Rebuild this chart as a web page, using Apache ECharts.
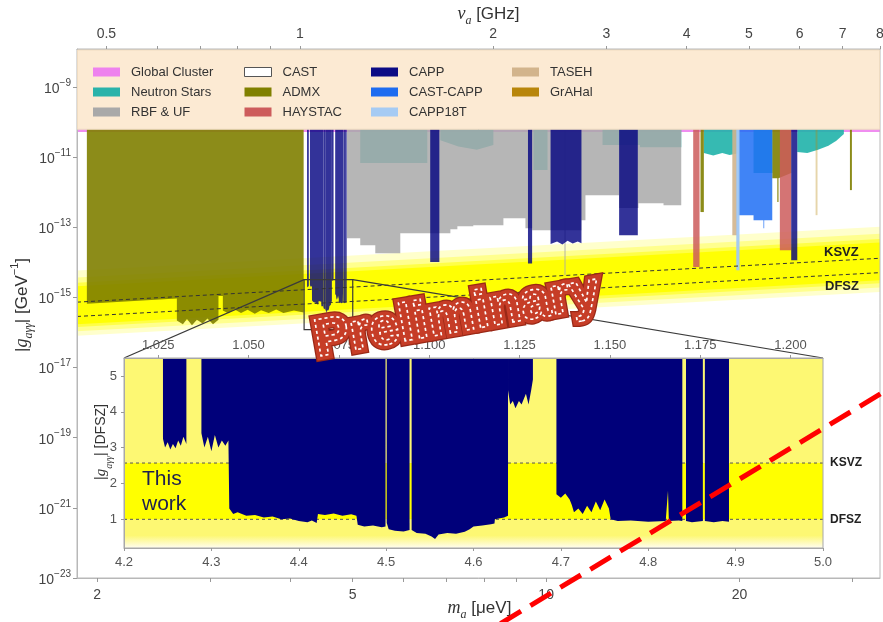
<!DOCTYPE html>
<html>
<head>
<meta charset="utf-8">
<title>Axion–photon coupling limits</title>
<script src="https://cdn.jsdelivr.net/npm/echarts@6/dist/echarts.min.js"></script>
<style>
  html, body { margin: 0; padding: 0; background: #ffffff; }
  #chart { width: 883px; height: 622px; }
</style>
</head>
<body>
<div id="chart"></div>
<script>
// ---------------- axes ----------------
const UEV_PER_GHZ = 4.1357;                 // m_a [μeV] per ν_a [GHz]
const massRange = [1.861, 33.09];           // μeV
const couplingRange = [1e-23, 1.2e-8];      // GeV^-1
const massTickValues = [2, 3, 4, 5, 6, 7, 8, 9, 10, 20, 30];
const massLabelValues = [2, 5, 10, 20];
const freqTickValues = [0.5, 0.6, 0.7, 0.8, 0.9, 1, 2, 3, 4, 5, 6, 7, 8];
const freqLabelValues = [0.5, 1, 2, 3, 4, 5, 6, 7, 8];
const couplingLabelValues = [1e-23, 1e-21, 1e-19, 1e-17, 1e-15, 1e-13, 1e-11, 1e-9];

// ---------------- QCD axion model lines [m (μeV), g (GeV^-1)] ----------------
const ksvzLine = [[1.861, 7.30e-16], [33.09, 1.30e-14]];
const dfszLine = [[1.861, 2.85e-16], [33.09, 5.06e-15]];

// ---------------- excluded regions ----------------
// each region is its lower edge as [m (μeV), g (GeV^-1)] points; it is filled up to the top of the plot
const globalCluster = [[[1.861, 5.2e-11], [33.09, 5.2e-11]]];
const castLimit = [[[1.861, 6.6e-11], [33.09, 6.6e-11]]];
const neutronStars = [
  [[5.136, 6.7e-12], [6.532, 6.7e-12]],
  [[6.843, 3.0e-11], [7.3, 2.0e-11], [7.8, 1.6e-11], [8.277, 2.2e-11]],
  [[9.555, 4.3e-12], [10.05, 4.3e-12]],
  [[12.24, 2.2e-11], [14.0, 2.2e-11], [14.0, 1.9e-11], [16.23, 1.9e-11]],
  [[17.60, 1.3e-11], [18.2, 1.1e-11], [18.8, 1.3e-11], [19.3, 1.15e-11], [19.86, 1.25e-11]],
  [[21.03, 3.5e-12], [22.51, 3.5e-12]],
  [[24.6, 1.4e-11], [25.5, 1.3e-11], [26.5, 1.6e-11], [27.5, 2.1e-11], [28.3, 2.9e-11], [29.07, 4.5e-11]]
];
const rbfUf = [
  [[4.898, 4.85e-14], [5.136, 4.85e-14], [5.136, 3.06e-14], [5.421, 3.06e-14], [5.421, 1.81e-14],
   [5.929, 1.81e-14], [5.929, 6.75e-14], [7.095, 6.75e-14], [7.095, 8.8e-14], [7.275, 8.8e-14],
   [7.275, 1.07e-13], [7.702, 1.07e-13], [7.702, 1.14e-13], [8.580, 1.14e-13], [8.580, 1.81e-13],
   [9.285, 1.81e-13], [9.285, 9.4e-14], [9.511, 9.4e-14], [9.511, 8.2e-14], [11.347, 8.2e-14],
   [11.347, 1.58e-13], [11.513, 1.58e-13], [11.513, 8.2e-13], [12.99, 8.2e-13], [12.99, 3.5e-13],
   [13.92, 3.5e-13], [13.92, 4.85e-13], [15.23, 4.85e-13], [15.23, 4.25e-13], [16.23, 4.25e-13]],
  [[10.68, 4.3e-15], [10.72, 4.3e-15]]
];
const admx = [
  [[1.928, 6.6e-16], [2.662, 9.2e-16], [2.662, 2.2e-16], [2.72, 1.7e-16], [2.76, 2.4e-16], [2.81, 1.6e-16],
   [2.86, 2.3e-16], [2.92, 1.8e-16], [2.97, 2.5e-16], [3.03, 1.7e-16], [3.09, 2.3e-16], [3.09, 1.1e-15],
   [3.139, 1.1e-15], [3.139, 4.2e-16], [3.2, 3.5e-16], [3.27, 4.6e-16], [3.35, 3.6e-16], [3.43, 4.4e-16],
   [3.52, 3.4e-16], [3.6, 4.3e-16], [3.7, 3.6e-16], [3.8, 4.5e-16], [3.9, 3.6e-16], [4.05, 4.2e-16], [4.193, 3.7e-16]],
  [[17.39, 2.7e-13], [17.60, 2.7e-13]],
  [[22.49, 2.5e-12], [22.9, 2.5e-12], [22.9, 5.2e-13], [23.0, 5.2e-13], [23.0, 2.5e-12], [24.07, 3.5e-12]],
  [[29.71, 1.14e-12], [29.92, 1.14e-12]]
];
const haystac = [
  [[16.94, 7.3e-15], [17.33, 7.3e-15]],
  [[23.11, 2.2e-14], [24.07, 2.2e-14]]
];
const cappPrevious = [
  [[6.60, 1.02e-14], [6.82, 1.02e-14]],
  [[9.37, 9.2e-15], [9.51, 9.2e-15]],
  [[10.16, 3.3e-14], [10.4, 3.9e-14], [10.6, 3.2e-14], [10.8, 4.1e-14], [11.0, 3.4e-14], [11.2, 3.9e-14], [11.35, 3.5e-14]],
  [[12.99, 5.9e-14], [13.89, 5.9e-14]],
  [[24.07, 1.14e-14], [24.6, 1.14e-14]]
];
const castCapp = [
  [[19.88, 2.2e-13], [21.03, 2.2e-13], [21.03, 1.58e-13], [21.79, 1.58e-13], [21.79, 9.4e-14],
   [21.85, 9.4e-14], [21.85, 1.58e-13], [22.49, 1.58e-13]]
];
const capp18t = [[[19.77, 5.9e-15], [20.0, 5.9e-15]]];
const taseh = [[[19.49, 5.9e-14], [19.84, 5.9e-14]]];
const grahal = [[[26.27, 2.2e-13], [26.45, 2.2e-13]]];

// ---------------- this work: |g| in DFSZ units vs m_a [μeV] ----------------
const insetMassRange = [4.2, 5.0];
const insetGRange = [0.2, 5.5];
const insetMassLabels = [4.2, 4.3, 4.4, 4.5, 4.6, 4.7, 4.8, 4.9, 5.0];
const insetFreqLabels = [1.025, 1.05, 1.075, 1.1, 1.125, 1.15, 1.175, 1.2];
const insetGLabels = [1, 2, 3, 4, 5];
const insetModels = [['DFSZ', 1], ['KSVZ', 2.57]];
const thisWork = [
  [[4.2446, 3.25], [4.247, 3.0], [4.250, 3.15], [4.253, 2.95], [4.256, 3.1], [4.259, 2.98], [4.262, 3.2], [4.265, 3.05], [4.268, 3.3], [4.2714, 3.1]],
  [[4.2886, 3.4], [4.292, 3.0], [4.296, 3.3], [4.300, 2.9], [4.304, 3.35], [4.308, 3.0], [4.312, 3.2], [4.316, 3.05], [4.3195, 3.2],
   [4.3205, 1.3], [4.325, 1.15], [4.330, 1.2], [4.340, 1.1], [4.350, 1.12], [4.360, 1.05], [4.370, 1.08], [4.380, 1.0],
   [4.390, 1.02], [4.400, 0.95], [4.410, 0.92], [4.415, 0.97], [4.4205, 0.9], [4.422, 1.15], [4.430, 1.12], [4.440, 1.16],
   [4.450, 1.1], [4.460, 1.14], [4.466, 1.1], [4.4675, 0.85], [4.475, 0.8], [4.485, 0.83], [4.495, 0.78], [4.4993, 0.8]],
  [[4.5007, 0.9], [4.503, 0.72], [4.510, 0.68], [4.520, 0.66], [4.5268, 0.7]],
  [[4.5292, 0.7], [4.535, 0.62], [4.545, 0.6], [4.552, 0.52], [4.556, 0.45], [4.560, 0.58], [4.570, 0.62], [4.580, 0.6],
   [4.590, 0.65], [4.5956, 0.72], [4.600, 0.8], [4.610, 0.83], [4.620, 0.86], [4.624, 0.88], [4.6245, 1.0], [4.635, 1.05], [4.6395, 1.1]],
  [[4.6395, 4.6], [4.642, 4.2], [4.645, 4.3], [4.648, 4.1], [4.652, 4.3], [4.655, 4.2], [4.660, 4.5], [4.663, 4.2], [4.666, 4.6], [4.668, 4.9]],
  [[4.6949, 1.7], [4.700, 1.6], [4.705, 1.72], [4.710, 1.55], [4.7125, 1.4], [4.715, 1.2], [4.720, 1.3], [4.725, 1.15],
   [4.730, 1.38], [4.735, 1.2], [4.740, 1.5], [4.745, 1.25], [4.750, 1.55], [4.755, 1.3], [4.757, 1.0], [4.765, 0.95],
   [4.780, 0.97], [4.800, 0.93], [4.820, 0.95], [4.8226, 1.8], [4.8236, 0.95], [4.835, 0.97], [4.839, 0.95]],
  [[4.8432, 0.95], [4.850, 0.92], [4.8625, 0.95]],
  [[4.8648, 0.95], [4.875, 0.92], [4.885, 0.95], [4.8924, 0.93]]
];

// zoom window marked on the main plot
const zoomMass = [4.2, 5.0];
const zoomCoupling = [1.2e-16, 3.2e-15];

// projected reach
const projection = [[8.49, 5.0e-25], [33.65, 2.1e-18]];

// ---------------- styling ----------------
const FONT = '"Liberation Sans", Arial, Helvetica, sans-serif';
const MATH = '"Liberation Serif", "DejaVu Serif", serif';
const BAND_FADE = [
  { below: 0.55, above: 0.90, alpha: 0.20 },
  { below: 0.42, above: 0.70, alpha: 0.30 },
  { below: 0.30, above: 0.55, alpha: 0.50 },
  { below: 0.22, above: 0.45, alpha: 0.95 }
];
const legendSwatch = {
  'Global Cluster': { color: '#ee82ee' },
  'Neutron Stars': { color: '#2ab3aa' },
  'RBF & UF': { color: '#a9a9a9' },
  'CAST': { color: '#ffffff', borderColor: '#555555', borderWidth: 1 },
  'ADMX': { color: '#808000' },
  'HAYSTAC': { color: '#cd5c5c' },
  'CAPP': { color: '#0b0b85' },
  'CAST-CAPP': { color: '#1e6cf0' },
  'CAPP18T': { color: '#a6cbf3' },
  'TASEH': { color: '#d2b48c' },
  'GrAHal': { color: '#b8860b' }
};
const legendColumns = [
  { left: 88, names: ['Global Cluster', 'Neutron Stars', 'RBF & UF'] },
  { left: 239, names: ['CAST', 'ADMX', 'HAYSTAC'] },
  { left: 366, names: ['CAPP', 'CAST-CAPP', 'CAPP18T'] },
  { left: 507, names: ['TASEH', 'GrAHal'] }
];

// DFSZ coupling at a given mass, from the DFSZ model line (straight in log-log)
function dfszAt(m) {
  const [[m0, g0], [m1, g1]] = dfszLine;
  const t = Math.log(m / m0) / Math.log(m1 / m0);
  return Math.exp(Math.log(g0) + t * Math.log(g1 / g0));
}
const thisWorkMain = thisWork.map(r => r.map(([m, v]) => [m, v * dfszAt(m)]));

// filled exclusion polygons: lower edge from the data, upper edge at the top of the axis
function regionSeries(name, regions, fill, z, axes, top) {
  return {
    type: 'custom', name: name, z: z, clip: true, silent: true,
    xAxisIndex: axes[0], yAxisIndex: axes[1],
    itemStyle: { color: fill },
    data: regions.map(r => r[0]),
    renderItem: (params, api) => {
      const r = regions[params.dataIndex];
      const pts = [api.coord([r[0][0], top])];
      r.forEach(p => pts.push(api.coord(p)));
      pts.push(api.coord([r[r.length - 1][0], top]));
      return { type: 'polygon', shape: { points: pts }, style: { fill: fill } };
    }
  };
}
const MAIN = [0, 0], INSET = [2, 1];
const TOP = couplingRange[1];

const nameRich = (base) => ({
  i: { fontFamily: MATH, fontStyle: 'italic', fontSize: base + 1, color: '#333', lineHeight: 26 },
  s: { fontFamily: MATH, fontStyle: 'italic', fontSize: Math.round(base * 0.7), color: '#333', lineHeight: 16, verticalAlign: 'bottom' },
  p: { fontFamily: FONT, fontSize: Math.round(base * 0.65), color: '#333', lineHeight: 14, verticalAlign: 'top' }
});
const nameStyle = (base, pad) => ({ fontFamily: FONT, fontSize: base, color: '#333', lineHeight: 26, padding: pad, rich: nameRich(base) });

const option = {
  animation: false,
  backgroundColor: '#ffffff',
  textStyle: { fontFamily: FONT },
  grid: [
    { left: 77, right: 3, top: 49, bottom: 44, outerBoundsMode: 'none', containLabel: false,
      show: true, borderColor: '#b8b8b8', borderWidth: 1, z: 4 },
    { left: 124, right: 60, top: 358, bottom: 74, outerBoundsMode: 'none', containLabel: false,
      show: true, borderColor: '#a8a8a8', borderWidth: 1, z: 9 }
  ],
  legend: legendColumns.map(c => ({
    orient: 'vertical', left: c.left, top: 59.5, itemWidth: 27, itemHeight: 9, itemGap: 5,
    icon: 'rect', z: 10, selectedMode: false,
    textStyle: { fontFamily: FONT, fontSize: 13, color: '#333', lineHeight: 15, padding: [0, 0, 0, 6] },
    data: c.names.map(n => ({ name: n, itemStyle: Object.assign({ borderWidth: 0 }, legendSwatch[n]) }))
  })),
  xAxis: [
    {
      type: 'log', gridIndex: 0, position: 'bottom', min: massRange[0], max: massRange[1], z: 4,
      name: '{i|m}{s|a} [μeV]', nameLocation: 'middle', nameGap: 17, nameMoveOverlap: false,
      nameTextStyle: nameStyle(17, [0, 0, 0, 2]),
      axisLine: { show: true, lineStyle: { color: '#b8b8b8' } },
      axisTick: { show: true, customValues: massTickValues, length: 4, lineStyle: { color: '#999' } },
      axisLabel: { customValues: massLabelValues, margin: 10, fontSize: 14, color: '#444', formatter: v => String(Math.round(v)) },
      splitLine: { show: false }
    },
    {
      type: 'log', gridIndex: 0, position: 'top', min: massRange[0] / UEV_PER_GHZ, max: massRange[1] / UEV_PER_GHZ, z: 4,
      name: '{i|ν}{s|a} [GHz]', nameLocation: 'middle', nameGap: 22, nameMoveOverlap: false,
      nameTextStyle: nameStyle(17, [0, 0, 0, 20]),
      axisLine: { show: true, lineStyle: { color: '#b8b8b8' } },
      axisTick: { show: true, customValues: freqTickValues, length: 3, lineStyle: { color: '#999' } },
      axisLabel: { customValues: freqLabelValues, margin: 8, fontSize: 14, color: '#444', formatter: v => String(v) },
      splitLine: { show: false }
    },
    {
      type: 'value', gridIndex: 1, position: 'bottom', min: insetMassRange[0], max: insetMassRange[1], z: 9,
      axisLine: { show: true, lineStyle: { color: '#a8a8a8' } },
      axisTick: { show: true, customValues: insetMassLabels, length: 3, lineStyle: { color: '#999' } },
      axisLabel: { customValues: insetMassLabels, margin: 8, fontSize: 13, color: '#555', formatter: v => v.toFixed(1) },
      splitLine: { show: false }
    },
    {
      type: 'value', gridIndex: 1, position: 'top', min: insetMassRange[0] / UEV_PER_GHZ, max: insetMassRange[1] / UEV_PER_GHZ, z: 9,
      axisLine: { show: true, lineStyle: { color: '#a8a8a8' } },
      axisTick: { show: true, customValues: insetFreqLabels, length: 3, lineStyle: { color: '#999' } },
      axisLabel: { customValues: insetFreqLabels, margin: 6, fontSize: 13, color: '#555', formatter: v => v.toFixed(3) },
      splitLine: { show: false }
    }
  ],
  yAxis: [
    {
      type: 'log', gridIndex: 0, min: couplingRange[0], max: couplingRange[1], z: 4,
      name: '|{i|g}{s|aγγ}| [GeV{p|−1}]', nameLocation: 'middle', nameGap: 42, nameMoveOverlap: false,
      nameTextStyle: nameStyle(17, [0, 0, 0, 17]),
      axisLine: { show: true, lineStyle: { color: '#b8b8b8' } },
      axisTick: { show: true, customValues: couplingLabelValues, length: 4, lineStyle: { color: '#999' } },
      axisLabel: {
        customValues: couplingLabelValues, margin: 6,
        formatter: v => '{b|10}{e|−' + Math.abs(Math.round(Math.log10(v))) + '}',
        rich: {
          b: { fontFamily: FONT, fontSize: 14, color: '#444', lineHeight: 18, verticalAlign: 'bottom' },
          e: { fontFamily: FONT, fontSize: 10, color: '#444', lineHeight: 12, verticalAlign: 'top' }
        }
      },
      splitLine: { show: false }
    },
    {
      type: 'value', gridIndex: 1, min: insetGRange[0], max: insetGRange[1], z: 9,
      name: '|{i|g}{s|aγγ}| [DFSZ]', nameLocation: 'middle', nameGap: 10, nameMoveOverlap: false,
      nameTextStyle: nameStyle(14, [0, 0, 0, 22]),
      axisLine: { show: true, lineStyle: { color: '#a8a8a8' } },
      axisTick: { show: true, customValues: insetGLabels, length: 3, lineStyle: { color: '#999' } },
      axisLabel: { customValues: insetGLabels, margin: 7, fontSize: 13, color: '#555', formatter: v => String(v) },
      splitLine: { show: false }
    }
  ],
  series: [
    // QCD axion band, soft edges built from stacked translucent layers
    {
      type: 'custom', name: 'QCD band', z: 1, silent: true, xAxisIndex: 0, yAxisIndex: 0, clip: true,
      data: [dfszLine[0]],
      renderItem: (params, api) => {
        const m0 = dfszLine[0][0], m1 = dfszLine[1][0];
        return {
          type: 'group',
          children: BAND_FADE.map(l => {
            const up = Math.pow(10, l.above), dn = Math.pow(10, -l.below);
            return {
              type: 'polygon',
              shape: { points: [
                api.coord([m0, dfszLine[0][1] * dn]), api.coord([m1, dfszLine[1][1] * dn]),
                api.coord([m1, ksvzLine[1][1] * up]), api.coord([m0, ksvzLine[0][1] * up])
              ] },
              style: { fill: 'rgba(255,255,0,' + l.alpha + ')' }
            };
          })
        };
      }
    },
    regionSeries('Global Cluster', globalCluster, 'rgba(238,130,238,0.9)', 2, MAIN, TOP),
    regionSeries('CAST', castLimit, '#ffffff', 2, MAIN, TOP),
    regionSeries('Neutron Stars', neutronStars, 'rgba(32,178,170,0.9)', 2, MAIN, TOP),
    regionSeries('RBF & UF', rbfUf, 'rgba(169,169,169,0.85)', 2, MAIN, TOP),
    regionSeries('ADMX', admx, 'rgba(128,128,0,0.9)', 2, MAIN, TOP),
    regionSeries('HAYSTAC', haystac, 'rgba(205,92,92,0.85)', 2, MAIN, TOP),
    regionSeries('CAPP', cappPrevious.concat(thisWorkMain), 'rgba(0,0,128,0.8)', 2, MAIN, TOP),
    regionSeries('CAST-CAPP', castCapp, 'rgba(30,110,245,0.85)', 2, MAIN, TOP),
    regionSeries('TASEH', taseh, 'rgba(210,180,140,0.9)', 2, MAIN, TOP),
    regionSeries('CAPP18T', capp18t, 'rgba(160,200,245,0.95)', 2, MAIN, TOP),
    regionSeries('GrAHal', grahal, 'rgba(184,134,11,0.35)', 2, MAIN, TOP),
    // model lines
    {
      type: 'line', name: 'KSVZ line', xAxisIndex: 0, yAxisIndex: 0, z: 3, silent: true, symbol: 'none',
      data: ksvzLine, lineStyle: { color: '#333', width: 1, type: [4, 3] }
    },
    {
      type: 'line', name: 'DFSZ line', xAxisIndex: 0, yAxisIndex: 0, z: 3, silent: true, symbol: 'none',
      data: dfszLine, lineStyle: { color: '#333', width: 1, type: [4, 3] }
    },
    // zoom window
    {
      type: 'custom', name: 'zoom window', xAxisIndex: 0, yAxisIndex: 0, z: 3, silent: true,
      data: [[zoomMass[0], zoomCoupling[0]]],
      renderItem: (params, api) => {
        const a = api.coord([zoomMass[0], zoomCoupling[1]]);
        const b = api.coord([zoomMass[1], zoomCoupling[0]]);
        return { type: 'rect', shape: { x: a[0], y: a[1], width: b[0] - a[0], height: b[1] - a[1] },
                 style: { fill: 'none', stroke: '#3a3a3a', lineWidth: 1.2 } };
      }
    },
    // inset background: model band in DFSZ units
    {
      type: 'custom', name: 'inset band', xAxisIndex: 2, yAxisIndex: 1, z: 6, silent: true,
      data: [[insetMassRange[0], insetGRange[1]]],
      renderItem: (params, api) => {
        const x0 = api.coord([insetMassRange[0], 1])[0];
        const x1 = api.coord([insetMassRange[1], 1])[0];
        const y = v => api.coord([insetMassRange[0], v])[1];
        const paleStop = (insetGRange[1] - 0.55) / (insetGRange[1] - insetGRange[0]);
        return {
          type: 'group',
          children: [
            { type: 'rect', shape: { x: x0, y: y(insetGRange[1]), width: x1 - x0, height: y(insetGRange[0]) - y(insetGRange[1]) },
              style: { fill: new echarts.graphic.LinearGradient(0, 0, 0, 1, [
                { offset: 0, color: '#fdf873' }, { offset: paleStop, color: '#fdf873' }, { offset: 1, color: '#fffdf0' }]) } },
            { type: 'rect', shape: { x: x0, y: y(insetModels[1][1]), width: x1 - x0, height: y(insetModels[0][1]) - y(insetModels[1][1]) },
              style: { fill: '#ffff00' } }
          ]
        };
      }
    },
    // inset model lines with labels
    ...insetModels.map(([name, v]) => ({
      type: 'line', name: name, xAxisIndex: 2, yAxisIndex: 1, z: 6.5, silent: true, symbol: 'none',
      data: [[insetMassRange[0], v], [insetMassRange[1], v]],
      lineStyle: { color: '#555', width: 1, type: [3, 3] },
      endLabel: { show: true, formatter: name, distance: 7, fontFamily: FONT, fontSize: 12, fontWeight: 'bold', color: '#222' }
    })),
    // this work in the inset
    regionSeries('This work', thisWork, '#00007a', 7, INSET, insetGRange[1]),
    // projected reach
    {
      type: 'custom', name: 'projection', xAxisIndex: 0, yAxisIndex: 0, z: 40, silent: true, clip: false,
      data: projection,
      renderItem: (params, api) => params.dataIndex !== 0 ? null : {
        type: 'polyline',
        shape: { points: projection.map(p => api.coord(p)) },
        style: { stroke: '#ff0000', lineWidth: 5, lineDash: [24, 11], fill: null }
      }
    }
  ]
};

const chart = echarts.init(document.getElementById('chart'), null, { renderer: 'canvas', width: 883, height: 622 });
chart.setOption(option);

// annotations that depend on where the two plots ended up
const mainAxes = { xAxisIndex: 0, yAxisIndex: 0 };
const insetAxes = { xAxisIndex: 2, yAxisIndex: 1 };
const boxL = chart.convertToPixel(mainAxes, [zoomMass[0], zoomCoupling[1]]);
const boxR = chart.convertToPixel(mainAxes, [zoomMass[1], zoomCoupling[1]]);
const insL = chart.convertToPixel(insetAxes, [insetMassRange[0], insetGRange[1]]);
const insR = chart.convertToPixel(insetAxes, [insetMassRange[1], insetGRange[1]]);
const gridTopLeft = chart.convertToPixel(mainAxes, [massRange[0], TOP]);
const gridTopRight = chart.convertToPixel(mainAxes, [massRange[1], TOP]);
const legendBottom = chart.convertToPixel(mainAxes, [massRange[0], castLimit[0][0][1]])[1];

const prelimFont = 'bold 53px ' + FONT;
const prelim = { x: 457, y: 317, rotation: 10 * Math.PI / 180 };

chart.setOption({
  graphic: [
    { type: 'rect', z: 5, silent: true,
      shape: { x: gridTopLeft[0] + 0.5, y: gridTopLeft[1] + 1, width: gridTopRight[0] - gridTopLeft[0] - 1, height: legendBottom - gridTopLeft[1] },
      style: { fill: '#fcead3', stroke: '#efdcc2', lineWidth: 1 } },
    { type: 'line', z: 4, silent: true, shape: { x1: boxL[0], y1: boxL[1], x2: insL[0], y2: insL[1] },
      style: { stroke: '#3a3a3a', lineWidth: 1.2 } },
    { type: 'line', z: 4, silent: true, shape: { x1: boxR[0], y1: boxR[1], x2: insR[0], y2: insR[1] },
      style: { stroke: '#3a3a3a', lineWidth: 1.2 } },
    { type: 'text', z: 5, x: 824, y: 252, silent: true,
      style: { text: 'KSVZ', font: 'bold 13px ' + FONT, fill: '#222', textAlign: 'left', textVerticalAlign: 'middle' } },
    { type: 'text', z: 5, x: 825, y: 286, silent: true,
      style: { text: 'DFSZ', font: 'bold 13px ' + FONT, fill: '#222', textAlign: 'left', textVerticalAlign: 'middle' } },
    { type: 'text', z: 12, x: 142, y: 492, silent: true,
      style: { text: 'This\nwork', font: '21px ' + FONT, lineHeight: 25, fill: '#1e2050', textAlign: 'left', textVerticalAlign: 'middle' } },
    { type: 'text', z: 30, x: prelim.x, y: prelim.y, rotation: prelim.rotation, silent: true,
      style: { text: 'Preliminary', font: prelimFont, fill: '#9a2816', stroke: '#9a2816', lineWidth: 11, lineJoin: 'round', textAlign: 'center', textVerticalAlign: 'middle' } },
    { type: 'text', z: 31, x: prelim.x, y: prelim.y, rotation: prelim.rotation, silent: true,
      style: { text: 'Preliminary', font: prelimFont, fill: '#c63d27', stroke: '#c63d27', lineWidth: 8.5, lineJoin: 'round', textAlign: 'center', textVerticalAlign: 'middle' } },
    { type: 'text', z: 32, x: prelim.x, y: prelim.y, rotation: prelim.rotation, silent: true,
      style: { text: 'Preliminary', font: prelimFont, fill: 'none', stroke: '#ffffff', lineWidth: 1.6, lineDash: [3, 3], textAlign: 'center', textVerticalAlign: 'middle' } }
  ]
});
</script>
</body>
</html>
